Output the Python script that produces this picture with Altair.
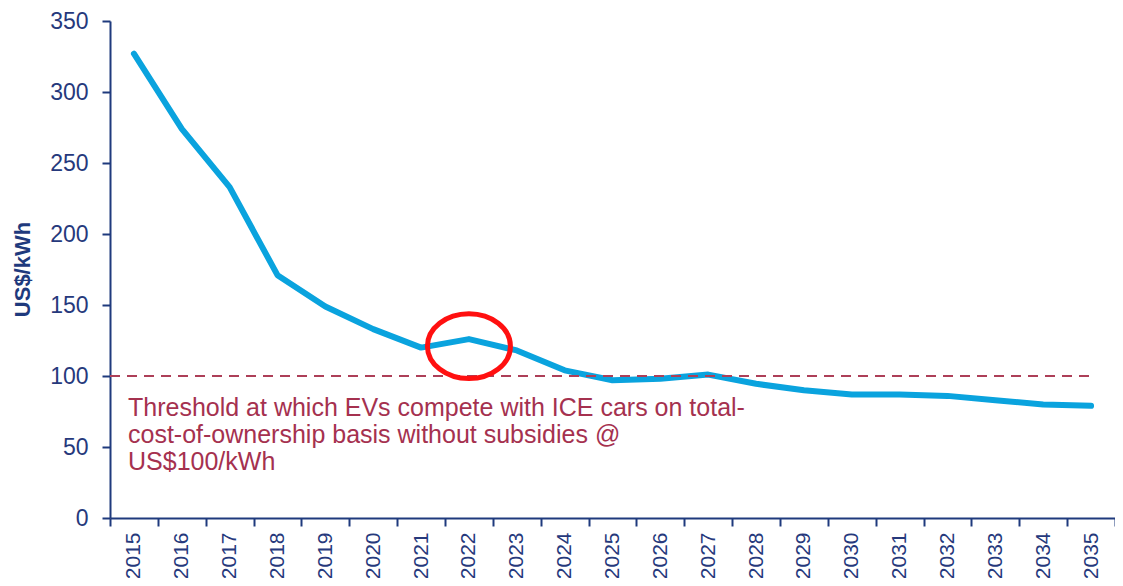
import altair as alt
import pandas as pd

# ---- data ----
years = ["2015", "2016", "2017", "2018", "2019", "2020", "2021", "2022", "2023", "2024",
         "2025", "2026", "2027", "2028", "2029", "2030", "2031", "2032", "2033", "2034", "2035"]
prices = [327, 274, 233, 171, 149, 133, 120, 126, 118, 104,
          97, 98, 101, 94.5, 90, 87, 87, 86, 83, 80, 79]
y_ticks = [0, 50, 100, 150, 200, 250, 300, 350]
threshold = 100
annotation_lines = [
    "Threshold at which EVs compete with ICE cars on total-",
    "cost-of-ownership basis without subsidies @",
    "US$100/kWh",
]
highlight_year = "2022"
highlight_value = 121

# ---- styles ----
NAVY = "#1f3a7d"
LABEL = "#26397c"
BLUE = "#0aa3de"
MAROON = "#ad3f58"
TEXT_RED = "#a5314f"
FONT = "Liberation Sans"

df = pd.DataFrame({"year": years, "price": prices})

x_scale = alt.Scale(domain=years, paddingInner=0, paddingOuter=0)
y_scale = alt.Scale(domain=[0, 350], nice=False)

x_axis = alt.Axis(
    title=None, labelAngle=-90, tickBand="extent", labelFontSize=21,
    labelPadding=6, tickSize=8, tickWidth=2, domainWidth=2,
    labelColor=LABEL, domainColor=NAVY, tickColor=NAVY, grid=False,
)
y_axis = alt.Axis(
    values=y_ticks, title="US$/kWh", grid=False, labelFontSize=23,
    labelPadding=14, tickSize=8, tickWidth=2, domainWidth=2,
    labelColor=LABEL, domainColor=NAVY, tickColor=NAVY,
    titleFontSize=22, titleFontWeight="bold", titleColor=NAVY,
    titleAngle=-90, titleX=-88, titleY=248, titleAlign="center", titleBaseline="middle",
)

base = alt.Chart(df)

line = base.mark_line(color=BLUE, strokeWidth=6, strokeJoin="round", strokeCap="round").encode(
    x=alt.X("year:N", scale=x_scale, sort=years, axis=x_axis),
    y=alt.Y("price:Q", scale=y_scale, axis=y_axis),
)

rule = alt.Chart(pd.DataFrame({"v": [threshold]})).mark_rule(
    color=MAROON, strokeDash=[10, 7], strokeWidth=2
).encode(
    x=alt.datum(years[0], bandPosition=0),
    x2=alt.datum(years[-1]),
    y=alt.Y("v:Q"),
)

note = alt.Chart(pd.DataFrame({"v": [threshold]})).mark_text(
    text=annotation_lines, align="left", baseline="alphabetic", lineHeight=27,
    fontSize=25, font=FONT, color=TEXT_RED, dx=18, dy=40,
).encode(
    x=alt.datum(years[0], bandPosition=0),
    y=alt.Y("v:Q"),
)

ellipse_path = "M-1,0A1,0.78,0,1,1,1,0A1,0.78,0,1,1,-1,0Z"
ellipse = alt.Chart(pd.DataFrame({"year": [highlight_year], "v": [highlight_value]})).mark_point(
    shape=ellipse_path, size=6889, filled=False, color="#ff1010", strokeWidth=5, opacity=1
).encode(
    x=alt.X("year:N"),
    y=alt.Y("v:Q"),
)

chart = alt.layer(line, rule, note, ellipse).properties(
    width=1005, height=497,
    autosize="none",
    padding={"left": 102, "top": 13, "right": 0, "bottom": 60},
).configure_view(stroke=None).configure_axis(labelFont=FONT, titleFont=FONT)

chart.save("out.html", embed_options={"renderer": "svg", "actions": False})
